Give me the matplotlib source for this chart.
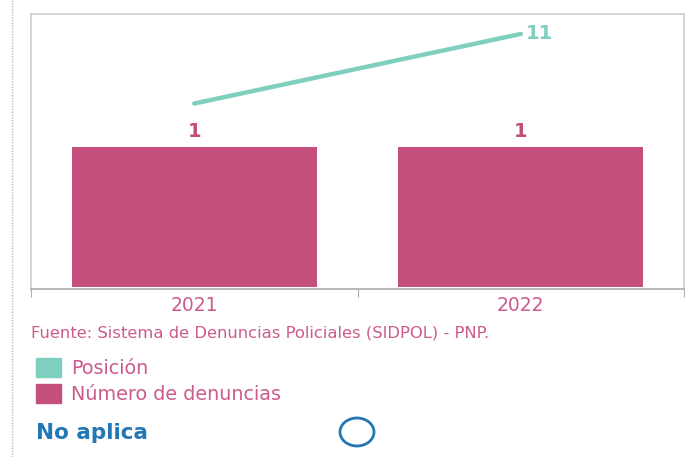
import matplotlib
matplotlib.use("Agg")
import matplotlib.pyplot as plt
from matplotlib.patches import Rectangle, Ellipse
from matplotlib.lines import Line2D

years = ["2021", "2022"]
denuncias = [1, 1]
posicion = [8, 11]

W, H = 686, 457
PINK = "#c44e7c"
PINK_TXT = "#cc5a8c"
TEAL = "#7ecfbd"
BLUE = "#2277b6"

plt.rcParams['font.family'] = ['DejaVu Sans']
fig = plt.figure(figsize=(W / 100, H / 100), dpi=100)

def px(x, y, w, h):
    return [x / W, 1 - (y + h) / H, w / W, h / H]

ax = fig.add_axes(px(31, 14, 653, 275))
x = list(range(len(years)))
ax.bar(x, denuncias, width=0.75, color=PINK, zorder=2)
ax.set_xlim(-0.5, len(years) - 0.5)
ax.set_ylim(-0.015, 1.95)
ax.set_yticks([])
ax.set_xticks(x)
ax.set_xticklabels(years, fontsize=13.5, color=PINK_TXT)
ax.tick_params(axis='x', which='major', length=0, pad=5)
ax.set_xticks([-0.5, 0.5, 1.5], minor=True)
ax.tick_params(axis='x', which='minor', length=6, color="#999999", direction='out')
for s in ['top', 'left', 'right']:
    ax.spines[s].set_color("#cccccc")
    ax.spines[s].set_linewidth(1.2)
ax.spines['bottom'].set_color("#aaaaaa")
ax.spines['bottom'].set_linewidth(1.2)
for xi, v in zip(x, denuncias):
    ax.annotate(str(v), (xi, v), xytext=(0, 4), textcoords='offset points',
                ha='center', va='bottom', fontsize=14, fontweight='bold', color=PINK)

ax2 = ax.twinx()
ax2.plot(x, posicion, color=TEAL, linewidth=3.2, solid_capstyle='round', zorder=3)
ax2.set_ylim(0, 11.86)
ax2.set_yticks([])
for s in ax2.spines.values():
    s.set_visible(False)
ax2.annotate(str(posicion[-1]), (x[-1], posicion[-1]), xytext=(4, 0), textcoords='offset points',
             ha='left', va='center', fontsize=14, fontweight='bold', color=TEAL)

# dotted left line
fig.add_artist(Line2D([12 / W, 12 / W], [0, 1], color="#bbbbbb", linestyle=(0, (1, 1)), linewidth=1))

fig.text(31 / W, 1 - 333 / H, "Fuente: Sistema de Denuncias Policiales (SIDPOL) - PNP.",
         fontsize=11.8, color=PINK_TXT, va='center', ha='left')

# legend
fig.add_artist(Rectangle((36 / W, 1 - 377 / H), 25 / W, 19 / H, color=TEAL, transform=fig.transFigure))
fig.text(71 / W, 1 - 368 / H, "Posición", fontsize=13.8, color=PINK_TXT, va='center', ha='left')
fig.add_artist(Rectangle((36 / W, 1 - 403 / H), 25 / W, 19 / H, color=PINK, transform=fig.transFigure))
fig.text(71 / W, 1 - 394 / H, "Número de denuncias", fontsize=13.8, color=PINK_TXT, va='center', ha='left')

fig.text(36 / W, 1 - 433 / H, "No aplica", fontsize=15.5, fontweight='bold', color=BLUE,
         va='center', ha='left')
fig.add_artist(Ellipse((357 / W, 1 - 432 / H), 34 / W, 28 / H, fill=False, edgecolor=BLUE,
                       linewidth=2, transform=fig.transFigure))

fig.savefig("out.png", dpi=100)
